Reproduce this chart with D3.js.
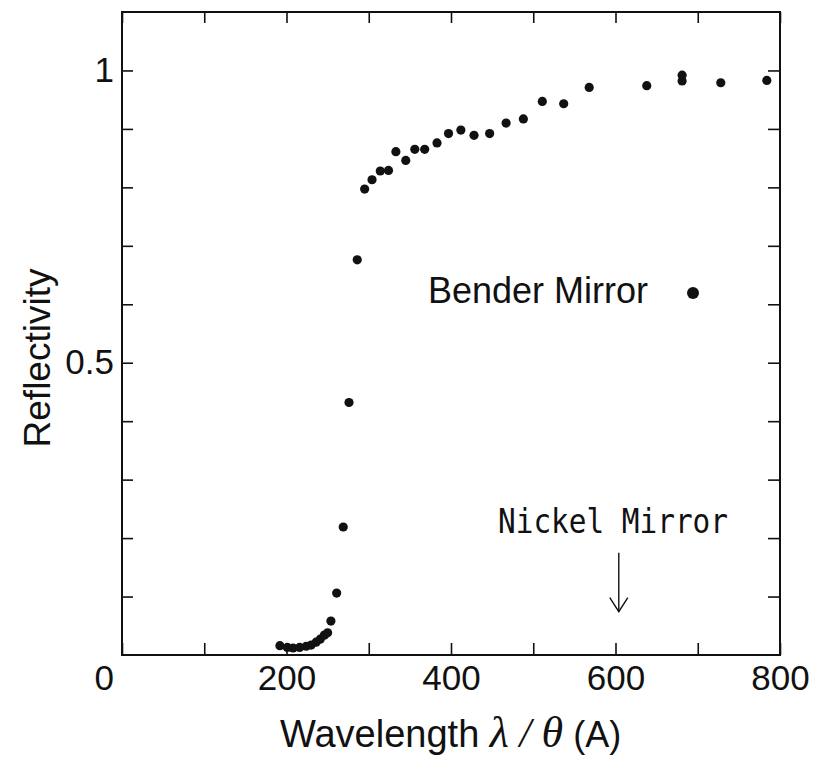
<!DOCTYPE html>
<html>
<head>
<meta charset="utf-8">
<script src="https://cdn.jsdelivr.net/npm/d3@7"></script>
<style>
  body { margin: 0; background: #fff; }
  text { font-family: "Liberation Sans", Arial, sans-serif; fill: #111; }
</style>
</head>
<body>
<svg id="chart" width="815" height="758"></svg>
<script>
// bender mirror reflectivity vs wavelength/angle
var wavelength = [192, 201, 208, 216, 224, 230, 236, 241, 246, 250,
                  254, 261, 269, 276, 286,
                  295, 304, 314, 324, 333, 345, 356, 368, 383, 397, 412, 428, 447, 467, 488, 511,
                  537, 568, 638, 681, 681, 728, 784];
var reflectivity = [0.016, 0.013, 0.012, 0.013, 0.015, 0.017, 0.022, 0.027, 0.034, 0.038,
                    0.058, 0.106, 0.219, 0.432, 0.676,
                    0.797, 0.813, 0.828, 0.829, 0.861, 0.846, 0.865, 0.865, 0.876, 0.892, 0.898, 0.889, 0.892, 0.910, 0.917, 0.947,
                    0.943, 0.971, 0.974, 0.992, 0.982, 0.979, 0.983];

var xTicks = [0, 100, 200, 300, 400, 500, 600, 700, 800];
var xLabels = [200, 400, 600, 800];
var yTicks = [0.1, 0.2, 0.3, 0.4, 0.5, 0.6, 0.7, 0.8, 0.9, 1.0];
var yLabels = [0.5, 1];
var nickelEdge = 604;   // arrow position, nickel mirror cut-off

var svg = d3.select("#chart");
var plotL = 122, plotR = 780, plotT = 12, plotB = 655;

var x = d3.scaleLinear().domain([0, 800]).range([plotL, plotR]);
var y = d3.scaleLinear().domain([0, 1.1]).range([plotB, plotT]);

// ticks, all pointing inward
svg.append("g")
    .attr("transform", "translate(0," + plotB + ")")
    .call(d3.axisBottom(x).tickValues(xTicks).tickSizeInner(-12).tickSizeOuter(0).tickPadding(10)
        .tickFormat(function (d) { return xLabels.indexOf(d) >= 0 ? d : ""; }));

svg.append("g")
    .attr("transform", "translate(0," + plotT + ")")
    .call(d3.axisTop(x).tickValues(xTicks).tickSizeInner(-11).tickSizeOuter(0).tickFormat(""));

svg.append("g")
    .attr("transform", "translate(" + plotL + ",0)")
    .call(d3.axisLeft(y).tickValues(yTicks).tickSizeOuter(0).tickPadding(8)
        .tickSizeInner(-11)
        .tickFormat(function (d) { return yLabels.indexOf(d) >= 0 ? d : ""; }));

svg.append("g")
    .attr("transform", "translate(" + plotR + ",0)")
    .call(d3.axisRight(y).tickValues(yTicks).tickSizeInner(-12).tickSizeOuter(0).tickFormat(""));

svg.selectAll(".tick line").attr("stroke", "#111").attr("stroke-width", 1.6);
svg.selectAll(".domain").remove();
svg.selectAll(".tick text")
    .style("font-family", "'Liberation Sans', Arial, sans-serif")
    .style("font-size", "35px")
    .attr("fill", "#111");

// the shared origin label
svg.append("text")
    .attr("x", plotL - 8).attr("y", plotB + 35)
    .attr("text-anchor", "end")
    .style("font-size", "35px")
    .text("0");

// frame
svg.append("rect")
    .attr("x", plotL).attr("y", plotT)
    .attr("width", plotR - plotL).attr("height", plotB - plotT)
    .attr("fill", "none").attr("stroke", "#111").attr("stroke-width", 2);

// data
svg.append("g").selectAll("circle")
    .data(wavelength)
    .enter().append("circle")
    .attr("cx", function (d) { return x(d); })
    .attr("cy", function (d, i) { return y(reflectivity[i]); })
    .attr("r", 4.6)
    .attr("fill", "#111");

// axis titles
var xt = svg.append("text")
    .attr("x", 280).attr("y", 747)
    .style("font-size", "38px");
xt.append("tspan").text("Wavelength ");
xt.append("tspan").style("font-family", "'Liberation Serif', serif").style("font-style", "italic")
    .style("font-size", "44px").text("λ");
xt.append("tspan").style("font-family", "'Liberation Serif', serif").style("font-style", "italic")
    .style("font-size", "42px").text(" / ");
xt.append("tspan").style("font-family", "'Liberation Serif', serif").style("font-style", "italic")
    .style("font-size", "44px").text("θ");
xt.append("tspan").style("font-size", "36px").text(" (A)");

svg.append("text")
    .attr("transform", "translate(50,358) rotate(-90)")
    .attr("text-anchor", "middle")
    .style("font-size", "37px")
    .text("Reflectivity");

// legend
svg.append("text")
    .attr("x", 428).attr("y", 303)
    .style("font-size", "36px")
    .text("Bender Mirror");
svg.append("circle")
    .attr("cx", 693).attr("cy", 293).attr("r", 6).attr("fill", "#111");

// nickel mirror annotation
svg.append("text")
    .attr("x", 498).attr("y", 533)
    .attr("textLength", 230).attr("lengthAdjust", "spacingAndGlyphs")
    .style("font-family", "'DejaVu Sans Mono', monospace")
    .style("font-size", "33px")
    .text("Nickel Mirror");

var ax = x(nickelEdge);
svg.append("line")
    .attr("x1", ax).attr("x2", ax).attr("y1", y(0.175)).attr("y2", y(0.074))
    .attr("stroke", "#111").attr("stroke-width", 1.4);
svg.append("path")
    .attr("d", "M" + (ax - 9) + "," + (y(0.074) - 14) + "L" + ax + "," + y(0.074) + "L" + (ax + 9) + "," + (y(0.074) - 14))
    .attr("fill", "none").attr("stroke", "#111").attr("stroke-width", 1.4);
</script>
</body>
</html>
